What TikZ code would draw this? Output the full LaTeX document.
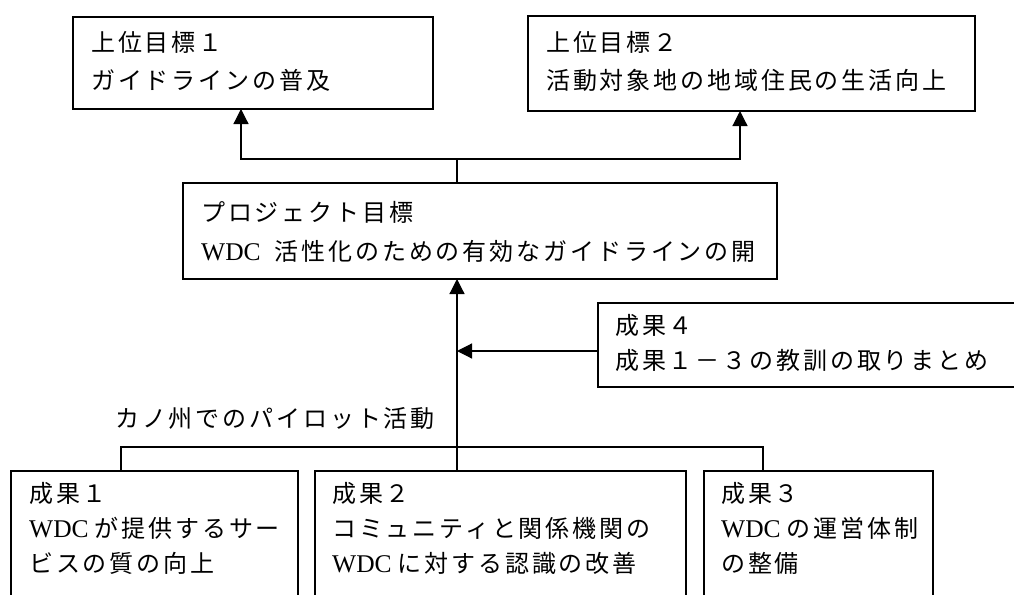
\documentclass[tikz,border=0pt]{standalone}
\usepackage{fontspec}
\setmainfont{Liberation Serif}
\newfontfamily\jp[LetterSpace=12]{Noto Sans CJK JP}
\usetikzlibrary{arrows.meta}
\newcommand\wdc{{\rmfamily\fontsize{25.5}{30}\selectfont WDC}}
\begin{document}
\begin{tikzpicture}[x=1pt,y=-1pt,
  box/.style={draw, line width=1.2pt, inner sep=0pt, outer sep=0pt, anchor=north west},
  txt/.style={inner sep=0pt, anchor=base west, align=left, font=\jp\fontsize{24}{38}\selectfont},
  txtb/.style={txt, font=\jp\fontsize{24}{35}\selectfont},
  ln/.style={line width=1.2pt},
  arr/.style={line width=1.2pt, -{Triangle[length=15pt,width=15pt]}}]
\useasboundingbox (0,0) rectangle (1014,594);
\clip (0,0) rectangle (1014,594);
% boxes
\node[box, minimum width=360pt, minimum height=92pt] (g1) at (73,17) {};
\node[box, minimum width=447pt, minimum height=95pt] (g2) at (528,16) {};
\node[box, minimum width=594pt, minimum height=96pt] (pm) at (183,183) {};
\node[box, minimum width=440pt, minimum height=84pt] (o4) at (598,303) {};
\node[box, minimum width=287pt, minimum height=160pt] (b1) at (11,471) {};
\node[box, minimum width=371pt, minimum height=160pt] (b2) at (315,471) {};
\node[box, minimum width=229pt, minimum height=160pt] (b3) at (704,471) {};
% texts (anchor = baseline of last line)
\node[txt] (g1t) at (91,89) {上位目標１\\ガイドラインの普及};
\node[txt] (g2t) at (546,89) {上位目標２\\活動対象地の地域住民の生活向上};
\node[txt, font=\jp\fontsize{24}{39}\selectfont] (pmt) at (201,260) {プロジェクト目標\\\wdc\hspace{14pt}活性化のための有効なガイドラインの開};
\node[txtb] (o4t) at (615,369) {成果４\\成果１－３の教訓の取りまとめ};
\node[txtb] (b1t) at (29,572) {成果１\\\wdc\hspace{6pt}が提供するサー\\ビスの質の向上};
\node[txtb] (b2t) at (332,572) {成果２\\コミュニティと関係機関の\\\wdc\hspace{6pt}に対する認識の改善};
\node[txtb] (b3t) at (721,572) {成果３\\\wdc\hspace{6pt}の運営体制\\の整備};
\node[txt] (lab) at (115,427) {カノ州でのパイロット活動};
% connectors
\coordinate (top) at (457,159);
\coordinate (a1) at (241,159);
\coordinate (a2) at (740,159);
\coordinate (h1) at (121,447);
\coordinate (h3) at (763,447);
\coordinate (m4) at (598,351);
\draw[ln] (top |- pm.north) -- (top);
\draw[arr] (top) -| (g1.south -| a1);
\draw[arr] (top) -| (g2.south -| a2);
\draw[ln] (b1.north -| h1) -- (h1) -- (h3) -- (b3.north -| h3);
\draw[arr] (b2.north -| top) -- (pm.south -| top);
\draw[arr] (o4.west |- m4) -- (m4 -| top);
\end{tikzpicture}
\end{document}
